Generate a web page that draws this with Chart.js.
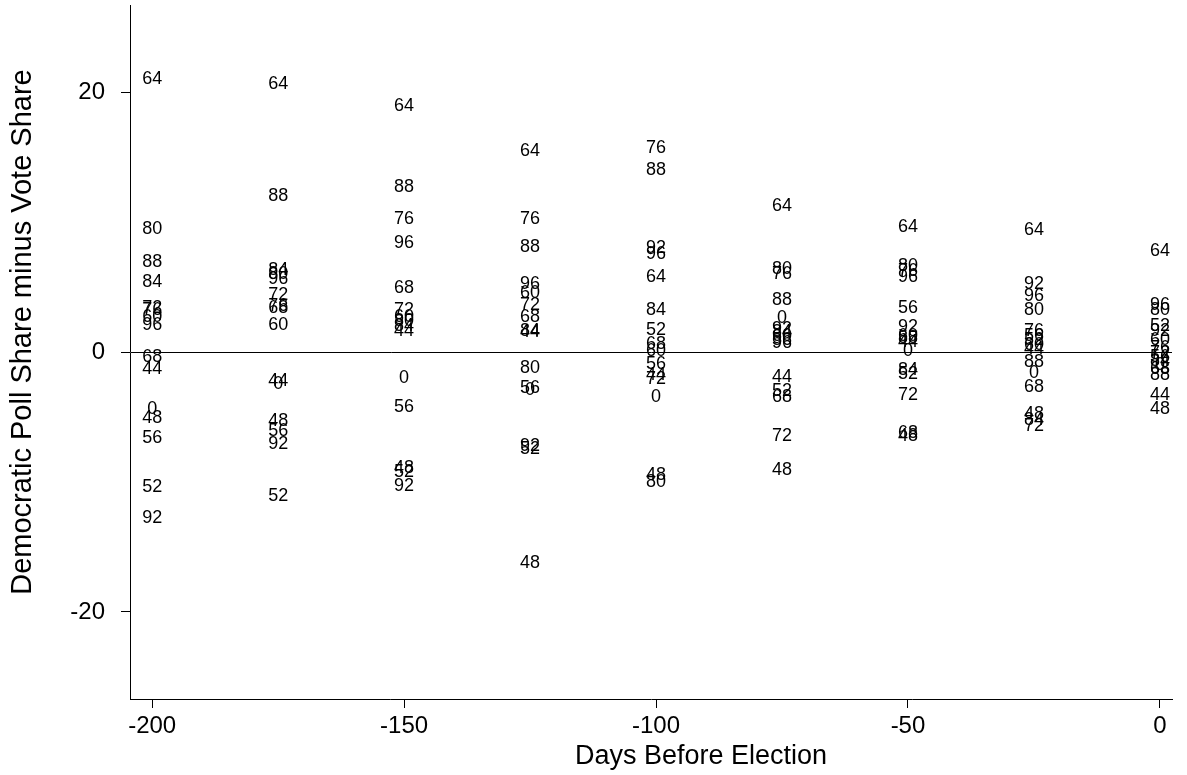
<!DOCTYPE html>
<html>
<head>
<meta charset="utf-8">
<script src="https://cdn.jsdelivr.net/npm/chart.js@4.4.0/dist/chart.umd.min.js"></script>
<style>
  html, body { margin: 0; padding: 0; background: #fff; }
</style>
</head>
<body>
<canvas id="chart" width="1187" height="775"></canvas>
<script>
// Days before the election at which the polls were taken
const days = [-200, -175, -150, -125, -100, -75, -50, -25, 0];

// Election years (two digits) used as point labels
const years = ['44', '48', '52', '56', '60', '64', '68', '72', '76', '80', '84', '88', '92', '96', '0'];

// Democratic poll share minus vote share, one array per day, in the order of years
const diff200 = [-1.3, -5.1, -10.4, -6.6, 2.7, 21.0, -0.4, 3.4, 3.2, 9.5, 5.4, 6.9, -12.8, 2.1, -4.4];
const diff175 = [-2.2, -5.3, -11.1, -6.1, 2.1, 20.6, 3.4, 4.4, 3.5, 6.0, 6.3, 12.0, -7.1, 5.6, -2.5];
const diff150 = [1.6, -8.9, -9.2, -4.2, 2.7, 18.9, 4.9, 3.2, 10.2, 2.4, 2.0, 12.7, -10.3, 8.4, -2.0];
const diff125 = [1.5, -16.2, -7.5, -2.8, 4.5, 15.5, 2.7, 3.6, 10.2, -1.2, 1.6, 8.1, -7.2, 5.2, -2.9];
const diff100 = [-1.8, -9.5, 1.7, -0.9, 0.1, 5.8, 0.6, -2.1, 15.7, -10.0, 3.2, 14.0, 8.0, 7.5, -3.5];
const diff75  = [-1.9, -9.1, -3.0, 0.9, 1.2, 11.2, -3.5, -6.5, 6.0, 6.4, 1.5, 4.0, 1.8, 0.7, 2.6];
const diff50  = [0.8, -6.5, -1.7, 3.4, 1.2, 9.6, -6.2, -3.3, 6.2, 6.6, -1.4, 1.1, 1.9, 5.8, 0.1];
const diff25  = [0.2, -4.8, 0.9, 1.2, 0.5, 9.4, -2.7, -5.7, 1.6, 3.2, -5.2, -0.8, 5.2, 4.3, -1.6];
const diff0   = [-3.3, -4.4, 2.0, -0.4, 0.9, 7.8, -1.3, -0.1, 0.3, 3.2, -0.7, -1.8, 1.6, 3.6, -1.0];

const diffsByDay = [diff200, diff175, diff150, diff125, diff100, diff75, diff50, diff25, diff0];

const xTicks = [-200, -150, -100, -50, 0];
const yTicks = [-20, 0, 20];

const FONT = '"Liberation Sans", Arial, Helvetica, sans-serif';

const points = [];
days.forEach((d, i) => {
    diffsByDay[i].forEach((v, j) => {
        points.push({ x: d, y: v, label: years[j] });
    });
});

// Draw each year as a text marker, centred on its point
const yearLabels = {
    id: 'yearLabels',
    afterDatasetsDraw(chart) {
        const ctx = chart.ctx;
        const meta = chart.getDatasetMeta(0);
        const data = chart.data.datasets[0].data;
        ctx.save();
        ctx.font = '18px ' + FONT;
        ctx.fillStyle = '#000';
        ctx.textAlign = 'center';
        ctx.textBaseline = 'middle';
        meta.data.forEach((pt, i) => {
            ctx.fillText(data[i].label, pt.x, pt.y);
        });
        ctx.restore();
    }
};

// Axis titles, placed like the original graph
const axisTitles = {
    id: 'axisTitles',
    afterDraw(chart) {
        const ctx = chart.ctx;
        ctx.save();
        ctx.fillStyle = '#000';
        ctx.textAlign = 'center';
        ctx.textBaseline = 'middle';
        ctx.font = '27px ' + FONT;
        ctx.fillText('Days Before Election', 701, 757);
        ctx.font = '29px ' + FONT;
        ctx.translate(23, 332);
        ctx.rotate(-Math.PI / 2);
        ctx.fillText('Democratic Poll Share minus Vote Share', 0, 0);
        ctx.restore();
    }
};

new Chart(document.getElementById('chart'), {
    type: 'scatter',
    data: {
        datasets: [{
            data: points,
            pointRadius: 0,
            pointHoverRadius: 0,
            showLine: false
        }]
    },
    options: {
        responsive: false,
        animation: false,
        events: [],
        layout: { padding: { top: 5, right: 15, left: 0, bottom: 0 } },
        plugins: {
            legend: { display: false },
            tooltip: { enabled: false }
        },
        scales: {
            x: {
                type: 'linear',
                min: -204.4,
                max: 2.4,
                afterFit(scale) {
                    scale.height = 76;
                    scale.paddingLeft = 0;
                    scale.paddingRight = 0;
                },
                afterBuildTicks(scale) { scale.ticks = xTicks.map(v => ({ value: v })); },
                grid: {
                    drawOnChartArea: false,
                    drawTicks: true,
                    tickLength: 9,
                    tickColor: '#000',
                    tickWidth: 1
                },
                border: { display: true, color: '#000', width: 1 },
                ticks: {
                    color: '#000',
                    font: { size: 24, family: FONT },
                    padding: 4,
                    maxRotation: 0,
                    autoSkip: false,
                    callback: v => String(v)
                }
            },
            y: {
                type: 'linear',
                min: -26.7,
                max: 26.7,
                afterFit(scale) {
                    scale.width = 130;
                    scale.paddingTop = 0;
                    scale.paddingBottom = 0;
                },
                afterBuildTicks(scale) { scale.ticks = yTicks.map(v => ({ value: v })); },
                grid: {
                    drawOnChartArea: true,
                    drawTicks: true,
                    tickLength: 9,
                    color: c => (c.tick && c.tick.value === 0) ? '#000' : 'rgba(0,0,0,0)',
                    tickColor: '#000',
                    lineWidth: 1,
                    tickWidth: 1
                },
                border: { display: true, color: '#000', width: 1 },
                ticks: {
                    color: '#000',
                    font: { size: 24, family: FONT },
                    padding: 16,
                    autoSkip: false,
                    callback: v => String(v)
                }
            }
        }
    },
    plugins: [yearLabels, axisTitles]
});
</script>
</body>
</html>
